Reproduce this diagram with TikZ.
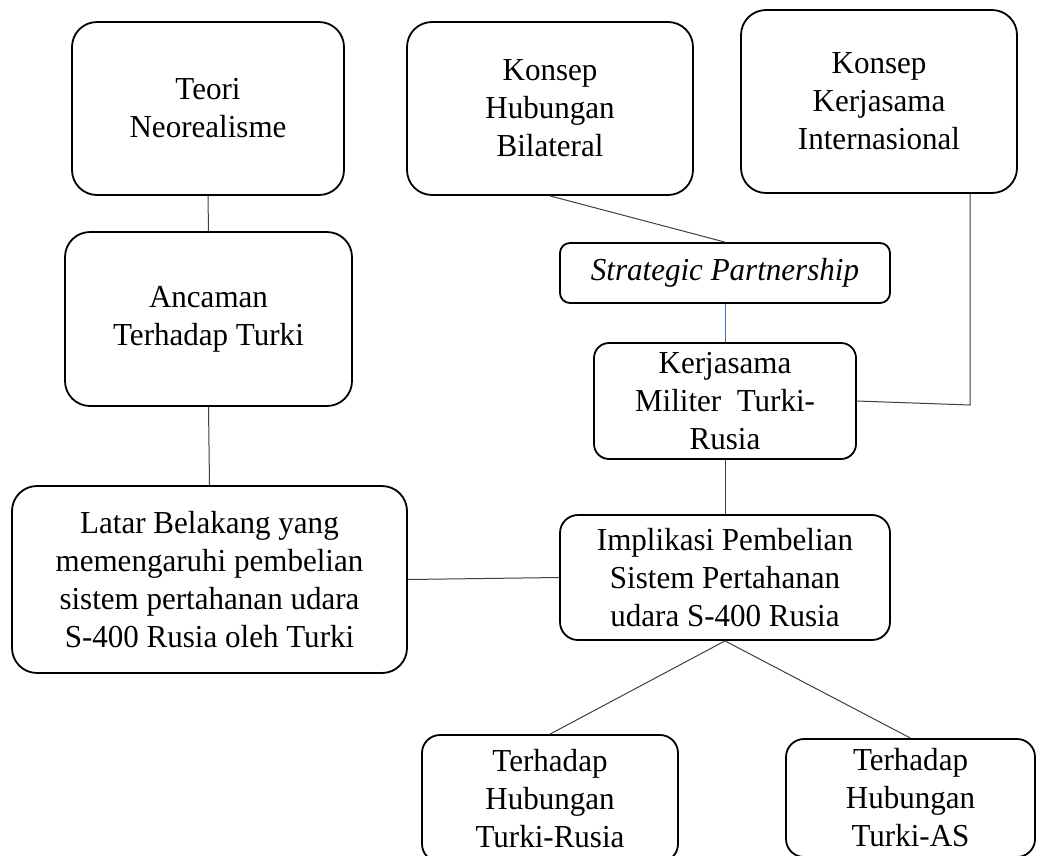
\documentclass[tikz,border=0pt]{standalone}
\usepackage{fontspec}
\setmainfont[FakeStretch=0.97]{Liberation Serif}
\usetikzlibrary{calc}
\definecolor{conn}{HTML}{404040}
\definecolor{blueconn}{HTML}{4472C4}
\tikzset{
  box/.style={draw=black, line width=1.8pt, align=center, inner sep=0pt,
    font=\fontsize{32}{38}\selectfont},
  link/.style={draw=conn, line width=1pt},
}
\begin{document}
\begin{tikzpicture}[x=1pt,y=-1pt]
\clip (0,0) rectangle (1038,855);
\useasboundingbox (0,0) rectangle (1038,855);
\fill[white] (0,0) rectangle (1038,855);

\node[box, rounded corners=25pt, minimum width=272pt, minimum height=173pt] (teori) at (208,108.5) {Teori\\Neorealisme};
\node[box, rounded corners=25pt, minimum width=286pt, minimum height=173pt] (hub) at (550,108.5) {Konsep\\Hubungan\\Bilateral};
\node[box, rounded corners=25pt, minimum width=276pt, minimum height=183pt] (kerj) at (879,101.5) {Konsep\\Kerjasama\\Internasional};
\node[box, rounded corners=25pt, minimum width=287pt, minimum height=174pt] (ancaman) at (208.5,319) {Ancaman\\Terhadap Turki};
\node[box, rounded corners=10pt, minimum width=330pt, minimum height=60pt] (sp) at (725,273) {\itshape Strategic Partnership};
\node[box, rounded corners=15pt, minimum width=262pt, minimum height=116pt] (mil) at (725,401) {Kerjasama\\Militer~~Turki-\\Rusia};
\node[box, rounded corners=25pt, minimum width=395pt, minimum height=187pt] (latar) at (209.5,579.5) {Latar Belakang yang\\memengaruhi pembelian\\sistem pertahanan udara\\S-400 Rusia oleh Turki};
\node[box, rounded corners=18pt, minimum width=330pt, minimum height=125pt] (impl) at (725,577.5) {Implikasi Pembelian\\Sistem Pertahanan\\udara S-400 Rusia};
\node[box, rounded corners=18pt, minimum width=256pt, minimum height=127pt] (tr) at (550,798.5) {Terhadap\\Hubungan\\Turki-Rusia};
\node[box, rounded corners=18pt, minimum width=249pt, minimum height=118pt] (tas) at (910.5,798) {Terhadap\\Hubungan\\Turki-AS};

\coordinate (kc) at (970,405);

\draw[link] (teori.south) -- (ancaman.north);
\draw[link] (ancaman.south) -- (latar.north);
\draw[link] (hub.south) -- (sp.north);
\draw[draw=blueconn, line width=1pt] (sp.south) -- (mil.north);
\draw[link] ([xshift=91pt]kerj.south) -- (kc) -- (mil.east);
\draw[link] (mil.south) -- (impl.north);
\draw[link] (latar.east) -- (impl.west);
\draw[link] (impl.south) -- (tr.north);
\draw[link] (impl.south) -- (tas.north);
\end{tikzpicture}
\end{document}
